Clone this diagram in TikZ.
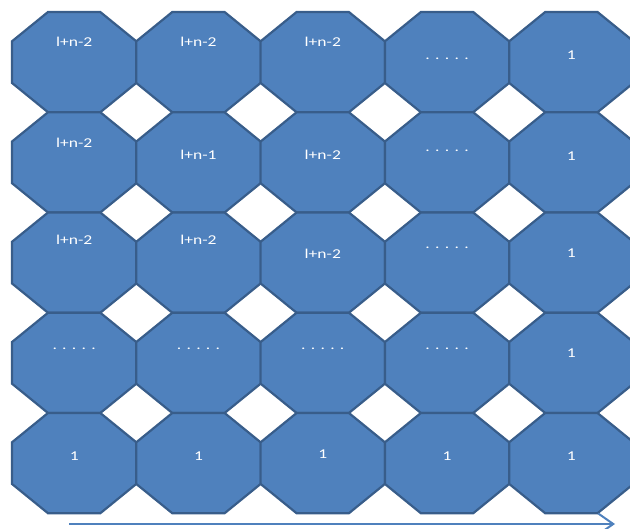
\documentclass[tikz,border=0pt]{standalone}
\usepackage{fontspec}
\usepackage{graphicx}
\newfontfamily\cellfont{Carlito}
\usetikzlibrary{arrows.meta,calc}
\definecolor{cellblue}{HTML}{4F81BD}
\definecolor{celledge}{HTML}{385D8A}
\newcommand{\wide}[1]{\scalebox{1.3}[1]{#1}}
\tikzset{
  cellbg/.style={fill=cellblue,draw=celledge,line width=2.2pt,line join=miter},
  celltxt/.style={text=white,anchor=base,inner sep=0pt,
            font=\cellfont\fontsize{13.5}{13.5}\selectfont},
  flow/.style={-{Straight Barb[length=15pt,width=21pt]},line width=2pt,cellblue},
}

\begin{document}
\begin{tikzpicture}[x=1pt,y=-1pt]
  \useasboundingbox (0,0) rectangle (630,529);
  % octagon grid, 5 x 5
  \foreach \c in {0,...,4}
    \foreach \r in {0,...,4}
      \draw[cellbg] ($(12,12)+(\c*124.3+36,\r*100.25)$)
        -- ++(52.3,0) -- ++(36,29.3) -- ++(0,41.65) -- ++(-36,29.3)
        -- ++(-52.3,0) -- ++(-36,-29.3) -- ++(0,-41.65) -- cycle;
  % row 1
  \node[celltxt] (c11) at (74.2,47)  {\wide{l+n-2}};
  \node[celltxt] (c12) at (198.5,47) {\wide{l+n-2}};
  \node[celltxt] (c13) at (322.8,47) {\wide{l+n-2}};
  \node[celltxt] (c14) at (447.1,60) {\wide{. . . . .}};
  \node[celltxt] (c15) at (571.4,60) {\wide{1}};
  % row 2
  \node[celltxt] (c21) at (74.2,148)  {\wide{l+n-2}};
  \node[celltxt] (c22) at (198.5,160) {\wide{l+n-1}};
  \node[celltxt] (c23) at (322.8,160) {\wide{l+n-2}};
  \node[celltxt] (c24) at (447.1,152) {\wide{. . . . .}};
  \node[celltxt] (c25) at (571.4,161) {\wide{1}};
  % row 3
  \node[celltxt] (c31) at (74.2,245)  {\wide{l+n-2}};
  \node[celltxt] (c32) at (198.5,245) {\wide{l+n-2}};
  \node[celltxt] (c33) at (322.8,259) {\wide{l+n-2}};
  \node[celltxt] (c34) at (447.1,249) {\wide{. . . . .}};
  \node[celltxt] (c35) at (571.4,258) {\wide{1}};
  % row 4
  \node[celltxt] (c41) at (74.2,350)  {\wide{. . . . .}};
  \node[celltxt] (c42) at (198.5,350) {\wide{. . . . .}};
  \node[celltxt] (c43) at (322.8,350) {\wide{. . . . .}};
  \node[celltxt] (c44) at (447.1,350) {\wide{. . . . .}};
  \node[celltxt] (c45) at (571.4,358) {\wide{1}};
  % row 5
  \node[celltxt] (c51) at (74.2,461)  {\wide{1}};
  \node[celltxt] (c52) at (198.5,461) {\wide{1}};
  \node[celltxt] (c53) at (322.8,459) {\wide{1}};
  \node[celltxt] (c54) at (447.1,461) {\wide{1}};
  \node[celltxt] (c55) at (571.4,461) {\wide{1}};
  % direction arrow
  \coordinate (flowstart) at (69,524);
  \coordinate (flowend)   at (615,524);
  \draw[flow] (flowstart) -- (flowend);
\end{tikzpicture}
\end{document}
